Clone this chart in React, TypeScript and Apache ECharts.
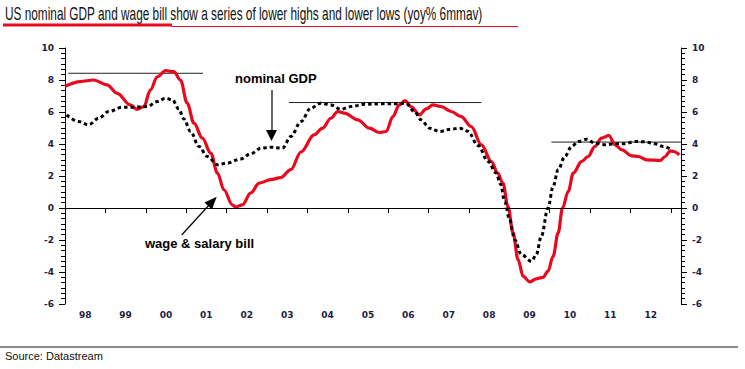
import React, { useEffect, useRef } from "react";
import * as echarts from "echarts";

// ---- data (x = months since Jan 1998) ----
const yearLabels = ["98", "99", "00", "01", "02", "03", "04", "05", "06", "07", "08", "09", "10", "11", "12"];
const totalMonths = 183;

const wageX = [0, 4.6, 8.5, 12.5, 15.5, 19.4, 21.4, 23.4, 25.4, 27.4, 29.9, 32.3, 34.3, 36.3, 38.3, 40.8, 43.3, 45.3, 47.2, 49.7, 50.7, 52.7, 55.2, 57.7, 61.1, 64.1, 67.1, 70.1, 74, 76.5, 79, 81, 83, 87, 90.4, 93.4, 95.4, 97.4, 99.3, 101, 102.8, 105.3, 107.3, 109.3, 111.8, 114.7, 117.7, 120.7, 123.7, 126.7, 128.5, 130.1, 131.6, 133.1, 134.6, 136.1, 138.1, 140, 142, 143.5, 145, 146.5, 147.8, 149.5, 151, 153.5, 155.4, 157.4, 159.4, 161.6, 163.4, 165.4, 168.4, 170.3, 172.8, 176.8, 178.3, 179.8, 180.8, 182.5];
const wageY = [7.6, 7.9, 8.0, 7.7, 7.17, 6.44, 6.17, 6.34, 7.38, 8.2, 8.58, 8.52, 8.0, 6.55, 5.3, 4.37, 3.43, 2.18, 1.14, 0.2, 0.06, 0.2, 0.94, 1.56, 1.77, 1.9, 2.4, 3.5, 4.57, 4.99, 5.61, 6.03, 5.93, 5.51, 4.99, 4.72, 4.78, 5.71, 6.44, 6.71, 6.34, 5.82, 6.19, 6.44, 6.34, 6.03, 5.71, 5.09, 3.95, 2.9, 2.2, 1.56, 0.1, -1.56, -3.22, -4.27, -4.62, -4.43, -4.33, -3.95, -3.02, -1.56, 0, 1.04, 2.18, 2.91, 3.22, 3.84, 4.37, 4.53, 3.95, 3.64, 3.26, 3.22, 3.01, 2.97, 3.22, 3.57, 3.53, 3.32];

const gdpX = [0.5, 4, 7, 10, 13, 17, 20.4, 24.4, 27.4, 29.9, 31.9, 33.8, 35.3, 37.3, 39.8, 42.3, 45.3, 48.2, 52.2, 55.2, 58.2, 61.1, 64.6, 67.1, 70.1, 73, 76, 79, 82, 85, 89, 95, 99, 101.3, 103.8, 105.8, 108.3, 111.3, 114.7, 117.2, 119.7, 122.7, 125.7, 128.1, 129.4, 130.6, 132.1, 133.6, 135.6, 138.6, 140, 141.5, 143.5, 145, 146.5, 148.5, 150.5, 152.5, 155, 157.4, 160.4, 163.4, 166.3, 169.3, 172.3, 175.3, 177.8, 180.5];
const gdpY = [5.82, 5.4, 5.2, 5.61, 6.03, 6.3, 6.3, 6.34, 6.65, 6.86, 6.76, 6.19, 5.57, 4.78, 3.84, 3.22, 2.7, 2.81, 3.06, 3.39, 3.74, 3.8, 3.74, 4.47, 5.4, 6.24, 6.55, 6.44, 6.17, 6.34, 6.49, 6.51, 6.51, 6.55, 6.03, 5.51, 4.99, 4.78, 4.93, 4.99, 4.8, 3.9, 2.91, 2.18, 1.5, 0.41, -0.73, -1.98, -2.91, -3.33, -2.91, -1.77, 0, 1.35, 2.39, 3.22, 3.84, 4.16, 4.3, 4.05, 3.95, 4.01, 4.01, 4.16, 4.14, 4.01, 3.84, 3.6];

// horizontal "highs" reference levels: start month, end month, level
const levelStart = [1, 66.5, 144.5];
const levelEnd = [41, 123.7, 183];
const levelValue = [8.42, 6.59, 4.12];

const TITLE = "US nominal GDP and wage bill show a series of lower highs and lower lows (yoy% 6mmav)";
const SOURCE = "Source: Datastream";

const RED = "#e8091e";
const NAVY = "#1c1c44";

function measure(text: string, font: string): number {
  const c = document.createElement("canvas").getContext("2d");
  if (!c) return text.length * 7;
  c.font = font;
  return c.measureText(text).width;
}

export default function App() {
  const ref = useRef<HTMLDivElement>(null);
  useEffect(() => {
    if (!ref.current) return;
    const chart = echarts.init(ref.current, undefined, { renderer: "svg" });
    const categories: string[] = [];
    for (let i = 0; i <= totalMonths; i++) categories.push(String(i));
    const titleFont = "18px 'Liberation Sans', Arial, sans-serif";
    const titleScale = 478 / measure(TITLE, titleFont);

    const levelSeries = levelValue.map((v, i) => ({
      type: "line",
      xAxisIndex: 0,
      yAxisIndex: 0,
      data: [
        [levelStart[i], v],
        [levelEnd[i], v],
      ],
      symbol: "none",
      silent: true,
      lineStyle: { color: "#222", width: 1 },
      z: 1,
    }));

    const yAxisBase = {
      type: "value",
      min: -6,
      max: 10,
      interval: 2,
      axisLine: { show: true, lineStyle: { color: "#000", width: 1 } },
      axisTick: { show: true, inside: false, length: 6, lineStyle: { color: "#000" } },
      minorTick: { show: true, splitNumber: 6, length: 4, lineStyle: { color: "#000" } },
      splitLine: { show: false },
      axisLabel: { color: NAVY, fontSize: 9, fontFamily: "DejaVu Sans", fontWeight: "bold", margin: 11 },
    };

    chart.setOption({
      animation: false,
      backgroundColor: "#fff",
      grid: { left: 65, right: 64, top: 48, bottom: 65, containLabel: false },
      xAxis: [
        { type: "value", min: 0, max: totalMonths, show: false },
        {
          type: "category",
          data: categories,
          boundaryGap: false,
          position: "bottom",
          axisLine: { show: true, lineStyle: { color: "#000", width: 1 } },
          axisTick: {
            show: true,
            length: 5,
            interval: (idx: number) => idx % 12 === 0,
            lineStyle: { color: "#000" },
          },
          axisLabel: {
            show: true,
            interval: (idx: number) => idx % 12 === 6,
            formatter: (val: string) => yearLabels[Math.floor(Number(val) / 12)] ?? "",
            color: NAVY,
            fontSize: 9,
            fontFamily: "DejaVu Sans",
            fontWeight: "bold",
            margin: 6,
          },
          splitLine: { show: false },
        },
      ],
      yAxis: [
        { ...yAxisBase, position: "left" },
        { ...yAxisBase, position: "right" },
      ],
      series: [
        ...levelSeries,
        {
          type: "line",
          name: "wage & salary bill",
          xAxisIndex: 0,
          yAxisIndex: 0,
          data: wageX.map((x, i) => [x, wageY[i]]),
          symbol: "none",
          smooth: 0.35,
          smoothMonotone: "x",
          lineStyle: { color: RED, width: 3.2 },
          z: 3,
          markLine: {
            silent: true,
            symbol: "none",
            label: { show: false },
            lineStyle: { color: "#000", width: 1, type: "solid" },
            data: [{ yAxis: 0 }],
          },
        },
        {
          type: "line",
          name: "nominal GDP",
          xAxisIndex: 0,
          yAxisIndex: 0,
          data: gdpX.map((x, i) => [x, gdpY[i]]),
          symbol: "none",
          smooth: 0.35,
          smoothMonotone: "x",
          lineStyle: { color: "#000", width: 3, type: [3.5, 3] },
          z: 4,
        },
      ],
      graphic: [
        {
          type: "text",
          x: 5,
          y: 13,
          scaleX: titleScale,
          style: {
            text: TITLE,
            font: titleFont,
            fill: "#111",
            textVerticalAlign: "middle",
            textAlign: "left",
          },
        },
        { type: "rect", shape: { x: 3, y: 23.5, width: 169, height: 3 }, style: { fill: RED } },
        { type: "line", shape: { x1: 172, y1: 26.5, x2: 518, y2: 26.5 }, style: { stroke: RED, lineWidth: 1 } },
        { type: "line", shape: { x1: 0, y1: 347, x2: 738, y2: 347 }, style: { stroke: "#8a8a8a", lineWidth: 2 } },
        {
          type: "text",
          x: 5,
          y: 356,
          style: { text: SOURCE, font: "11px 'Liberation Sans', Arial, sans-serif", fill: "#111", textVerticalAlign: "middle" },
        },
        {
          type: "text",
          x: 235,
          y: 78,
          style: { text: "nominal GDP", font: "bold 13px 'Liberation Sans', Arial, sans-serif", fill: "#000", textVerticalAlign: "middle" },
        },
        {
          type: "text",
          x: 145,
          y: 243,
          style: { text: "wage & salary bill", font: "bold 13px 'Liberation Sans', Arial, sans-serif", fill: "#000", textVerticalAlign: "middle" },
        },
        { type: "line", shape: { x1: 272, y1: 90, x2: 272, y2: 131 }, style: { stroke: "#000", lineWidth: 1.2 } },
        { type: "polygon", shape: { points: [[266, 130], [277, 130], [271.5, 141]] }, style: { fill: "#000" } },
        { type: "line", shape: { x1: 181.7, y1: 235, x2: 210, y2: 204 }, style: { stroke: "#000", lineWidth: 1.2 } },
        { type: "polygon", shape: { points: [[216.7, 196.7], [204.5, 202.5], [212, 209.5]] }, style: { fill: "#000" } },
      ],
    });
    return () => chart.dispose();
  }, []);
  return <div ref={ref} style={{ position: "absolute", left: 0, top: 0, width: 745, height: 369 }} />;
}
